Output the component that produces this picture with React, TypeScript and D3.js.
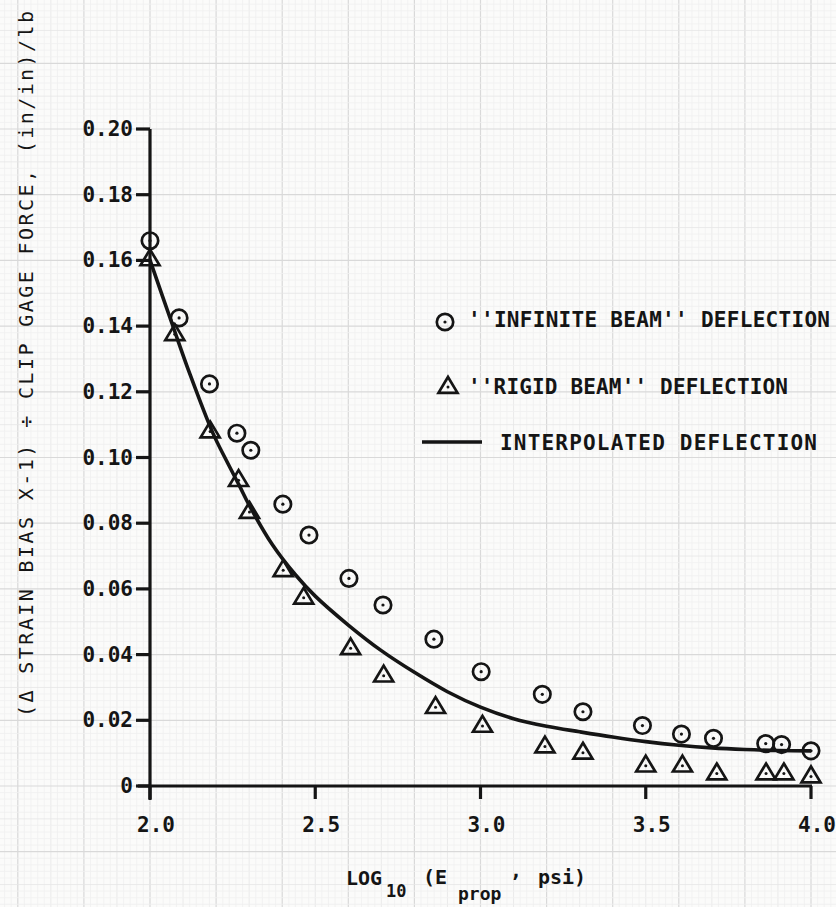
import React from "react";
import * as d3 from "d3";

// ---- data ----
const infiniteX = [2.0, 2.088, 2.18, 2.263, 2.305, 2.402, 2.481, 2.602, 2.705, 2.859, 3.002, 3.187, 3.31, 3.49, 3.608, 3.705, 3.863, 3.911, 4.0];
const infiniteY = [0.166, 0.1425, 0.1224, 0.1074, 0.1022, 0.0858, 0.0764, 0.0632, 0.0551, 0.0447, 0.0348, 0.0279, 0.0226, 0.0184, 0.0158, 0.0145, 0.0129, 0.0126, 0.0107];

const rigidX = [2.0, 2.075, 2.182, 2.268, 2.301, 2.403, 2.465, 2.607, 2.707, 2.864, 3.006, 3.195, 3.31, 3.5, 3.611, 3.715, 3.864, 3.918, 4.0];
const rigidY = [0.1606, 0.1378, 0.1082, 0.0934, 0.0837, 0.066, 0.0576, 0.0422, 0.0339, 0.0243, 0.0186, 0.0123, 0.0104, 0.0065, 0.0065, 0.0041, 0.0041, 0.0041, 0.0032];

const curveX = [2.0, 2.07, 2.12, 2.19, 2.23, 2.27, 2.3, 2.37, 2.44, 2.5, 2.6, 2.7, 2.8, 2.9, 3.0, 3.1, 3.2, 3.3, 3.4, 3.5, 3.6, 3.7, 3.8, 3.9, 4.0];
const curveY = [0.1601, 0.1398, 0.1256, 0.1075, 0.0993, 0.0915, 0.0855, 0.0735, 0.0643, 0.0578, 0.049, 0.0412, 0.0346, 0.0287, 0.024, 0.0205, 0.0182, 0.0165, 0.0149, 0.0135, 0.0124, 0.0116, 0.0111, 0.0108, 0.0107];

const xTicks = [2.0, 2.5, 3.0, 3.5, 4.0];
const xTickLabels = ["2.0", "2.5", "3.0", "3.5", "4.0"];
const yTicks = [0, 0.02, 0.04, 0.06, 0.08, 0.1, 0.12, 0.14, 0.16, 0.18, 0.2];
const yTickLabels = ["0", "0.02", "0.04", "0.06", "0.08", "0.10", "0.12", "0.14", "0.16", "0.18", "0.20"];

const legendLabels = ["''INFINITE BEAM'' DEFLECTION", "''RIGID BEAM'' DEFLECTION", "INTERPOLATED DEFLECTION"];
const yTitle = "(\u0394 STRAIN BIAS X-1) \u00F7 CLIP GAGE FORCE, (in/in)/lb";

const W = 836;
const H = 907;
const INK = "#151515";
const FONT = "'DejaVu Sans Mono', 'Liberation Mono', monospace";

export default function App() {
  const x = d3.scaleLinear().domain([2, 4]).range([150, 811]);
  const y = d3.scaleLinear().domain([0, 0.2]).range([786, 129]);

  // graph paper grid
  const fineX: number[] = [];
  for (let v = 1.4; v <= 4.5; v += 0.02) fineX.push(v);
  const fineY: number[] = [];
  for (let v = -0.04; v <= 0.26; v += 0.002) fineY.push(v);

  const line = d3
    .line<number>()
    .x((_, i) => x(curveX[i]))
    .y((d) => y(d))
    .curve(d3.curveCatmullRom.alpha(0.5));

  const tri = (cx: number, cy: number, s = 9.5) =>
    `M${cx},${cy - s * 0.95} L${cx + s},${cy + s * 0.72} L${cx - s},${cy + s * 0.72} Z`;

  return (
    <svg width={W} height={H} style={{ position: "absolute", left: 0, top: 0, background: "#fbfbfa" }}>
      <rect x={0} y={0} width={W} height={H} fill="#fbfbfa" />
      {/* graph paper */}
      <g>
        {fineX.map((v, i) => {
          const k = Math.round((v - 1.4) / 0.02);
          const heavy = k % 10 === 0;
          const mid = k % 5 === 0;
          return (
            <line key={"gx" + i} x1={x(v)} x2={x(v)} y1={0} y2={H}
              stroke={heavy ? "#d9d9d9" : mid ? "#e6e6e6" : "#f0f0f0"} strokeWidth={heavy ? 1.2 : 0.8} />
          );
        })}
        {fineY.map((v, i) => {
          const k = Math.round((v + 0.04) / 0.002);
          const heavy = k % 10 === 0;
          const mid = k % 5 === 0;
          return (
            <line key={"gy" + i} y1={y(v)} y2={y(v)} x1={0} x2={W}
              stroke={heavy ? "#d9d9d9" : mid ? "#e6e6e6" : "#f0f0f0"} strokeWidth={heavy ? 1.2 : 0.8} />
          );
        })}
      </g>

      {/* axes */}
      <g stroke={INK} strokeWidth={3.2} fill="none">
        <line x1={x(2)} x2={x(2)} y1={y(0.2)} y2={y(0) + 14} />
        <line x1={x(2) - 12} x2={x(4) + 1} y1={y(0)} y2={y(0)} />
        {yTicks.map((t) => (
          <line key={"yt" + t} x1={x(2) - 14} x2={x(2)} y1={y(t)} y2={y(t)} />
        ))}
        {xTicks.map((t) => (
          <line key={"xt" + t} x1={x(t)} x2={x(t)} y1={y(0)} y2={y(0) + 13} />
        ))}
      </g>

      {/* tick labels */}
      <g fill={INK} fontFamily={FONT} fontSize={21} fontWeight="bold">
        {yTicks.map((t, i) => (
          <text key={"yl" + t} x={133} y={y(t) + 7} textAnchor="end">{yTickLabels[i]}</text>
        ))}
        {xTicks.map((t, i) => (
          <text key={"xl" + t} x={x(t) + 6} y={832} textAnchor="middle">{xTickLabels[i]}</text>
        ))}
      </g>

      {/* x title */}
      <text fill={INK} fontFamily={FONT} fontSize={20} fontWeight="bold">
        <tspan x={346} y={885}>LOG</tspan>
        <tspan x={386} y={897} fontSize={17}>10</tspan>
        <tspan x={423} y={884}>(E</tspan>
        <tspan x={458} y={900} fontSize={18}>prop</tspan>
        <tspan x={510} y={877}>,</tspan>
        <tspan x={538} y={884}>psi)</tspan>
      </text>

      {/* y title */}
      <text
        transform={`translate(33,364) rotate(-90)`}
        textAnchor="middle"
        fill={INK}
        fontFamily={FONT}
        fontSize={20}
        textLength={706}
        lengthAdjust="spacing"
      >
        {yTitle}
      </text>

      {/* curve */}
      <path d={line(curveY) || ""} fill="none" stroke={INK} strokeWidth={3.6} strokeLinejoin="round" />

      {/* infinite beam markers */}
      <g>
        {infiniteY.map((v, i) => (
          <g key={"c" + i}>
            <circle cx={x(infiniteX[i])} cy={y(v)} r={8.2} fill="none" stroke={INK} strokeWidth={2.7} />
            <circle cx={x(infiniteX[i])} cy={y(v)} r={1.6} fill={INK} />
          </g>
        ))}
      </g>

      {/* rigid beam markers */}
      <g>
        {rigidY.map((v, i) => (
          <g key={"t" + i}>
            <path d={tri(x(rigidX[i]), y(v))} fill="none" stroke={INK} strokeWidth={2.7} strokeLinejoin="miter" />
            <circle cx={x(rigidX[i])} cy={y(v) + 1} r={1.5} fill={INK} />
          </g>
        ))}
      </g>

      {/* legend */}
      <g>
        <circle cx={445} cy={322} r={8.2} fill="none" stroke={INK} strokeWidth={2.7} />
        <circle cx={445} cy={322} r={1.6} fill={INK} />
        <text x={468} y={327} fill={INK} fontFamily={FONT} fontSize={21} fontWeight="bold" textLength={362} lengthAdjust="spacing">
          {legendLabels[0]}
        </text>
        <path d={tri(448, 386)} fill="none" stroke={INK} strokeWidth={2.7} />
        <circle cx={448} cy={387} r={1.5} fill={INK} />
        <text x={468} y={394} fill={INK} fontFamily={FONT} fontSize={21} fontWeight="bold" textLength={320} lengthAdjust="spacing">
          {legendLabels[1]}
        </text>
        <line x1={422} x2={482} y1={442} y2={442} stroke={INK} strokeWidth={3.4} />
        <text x={500} y={450} fill={INK} fontFamily={FONT} fontSize={21} fontWeight="bold" textLength={317} lengthAdjust="spacing">
          {legendLabels[2]}
        </text>
      </g>
    </svg>
  );
}
